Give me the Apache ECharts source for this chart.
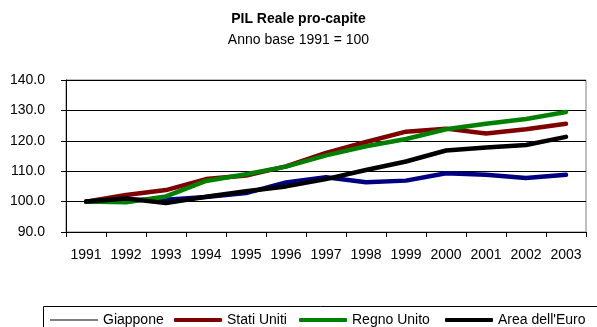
<!DOCTYPE html>
<html>
<head>
<meta charset="utf-8">
<script src="https://cdn.jsdelivr.net/npm/echarts@6/dist/echarts.min.js"></script>
<style>
html,body{margin:0;padding:0;background:#fff;}
#chart{width:597px;height:327px;}
</style>
</head>
<body>
<div id="chart"></div>
<script>
const years = ['1991','1992','1993','1994','1995','1996','1997','1998','1999','2000','2001','2002','2003'];
const giappone = [100.0, 100.6, 100.6, 101.5, 102.8, 106.3, 108.0, 106.4, 106.9, 109.3, 108.8, 107.8, 108.8];
const statiUniti = [100.0, 102.2, 103.8, 107.4, 108.6, 111.6, 116.0, 119.6, 123.0, 124.0, 122.4, 123.8, 125.6];
const regnoUnito = [100.0, 99.8, 101.7, 106.8, 109.0, 111.5, 115.2, 118.2, 120.6, 123.8, 125.6, 127.2, 129.5];
const areaEuro = [100.0, 101.0, 99.5, 101.6, 103.4, 105.0, 107.4, 110.4, 113.2, 116.8, 117.8, 118.6, 121.3];
const seriesNames = ['Giappone', 'Stati Uniti', 'Regno Unito', "Area dell'Euro"];
const seriesColors = ['#000080', '#800000', '#008000', '#000000'];
const seriesData = [giappone, statiUniti, regnoUnito, areaEuro];

const FONT = '"Liberation Sans", Arial, sans-serif';
const chart = echarts.init(document.getElementById('chart'), null, {renderer: 'canvas'});

const legendLefts = [50, 174, 299, 445];
const legends = seriesNames.map((n, i) => ({
  left: legendLefts[i],
  top: 313,
  itemWidth: 48,
  itemHeight: i === 0 ? 1 : 4,
  itemGap: 0,
  padding: 0,
  data: [{
    name: n,
    icon: i === 0 ? 'rect' : 'roundRect',
    itemStyle: {color: i === 0 ? '#000' : seriesColors[i], borderWidth: 0},
    lineStyle: i === 0 ? {color: '#000', width: 1} : {color: seriesColors[i], width: 4.5, cap: 'round'}
  }],
  textStyle: {fontFamily: FONT, fontSize: 14, color: '#000'},
  selectedMode: false
}));

chart.setOption({
  backgroundColor: '#fff',
  animation: false,
  title: {
    text: 'PIL Reale pro-capite',
    subtext: 'Anno base 1991 = 100',
    left: 'center',
    top: 12,
    itemGap: 7,
    padding: 0,
    textStyle: {fontFamily: FONT, fontSize: 14, fontWeight: 'bold', color: '#000', lineHeight: 14},
    subtextStyle: {fontFamily: FONT, fontSize: 14, color: '#000', lineHeight: 14}
  },
  graphic: [{
    type: 'rect',
    shape: {x: 43.5, y: 306.5, width: 560, height: 40},
    style: {fill: 'none', stroke: '#000', lineWidth: 1},
    silent: true,
    z: -1
  }],
  legend: legends,
  grid: {
    left: 66, right: 11, top: 80, bottom: 95,
    show: true, borderColor: '#808080', borderWidth: 1
  },
  xAxis: {
    type: 'category',
    data: years,
    boundaryGap: true,
    axisLine: {lineStyle: {color: '#000', width: 1}},
    axisTick: {show: true, length: 5, inside: false, alignWithLabel: false, lineStyle: {color: '#000'}},
    axisLabel: {fontFamily: FONT, fontSize: 14, color: '#000', margin: 16, interval: 0},
    splitLine: {show: false}
  },
  yAxis: {
    type: 'value',
    min: 90, max: 140, interval: 10,
    axisLine: {show: true, lineStyle: {color: '#000', width: 1}},
    axisTick: {show: true, length: 5, lineStyle: {color: '#000'}},
    axisLabel: {fontFamily: FONT, fontSize: 14, color: '#000', margin: 21, formatter: v => v.toFixed(1)},
    splitLine: {show: true, lineStyle: {color: '#000', width: 1}}
  },
  series: seriesNames.map((n, i) => ({
    name: n,
    type: 'line',
    data: seriesData[i],
    symbol: 'none',
    smooth: false,
    color: seriesColors[i],
    lineStyle: {color: seriesColors[i], width: 4.5, cap: 'round', join: 'round'},
    z: 2 + i
  }))
});
</script>
</body>
</html>
